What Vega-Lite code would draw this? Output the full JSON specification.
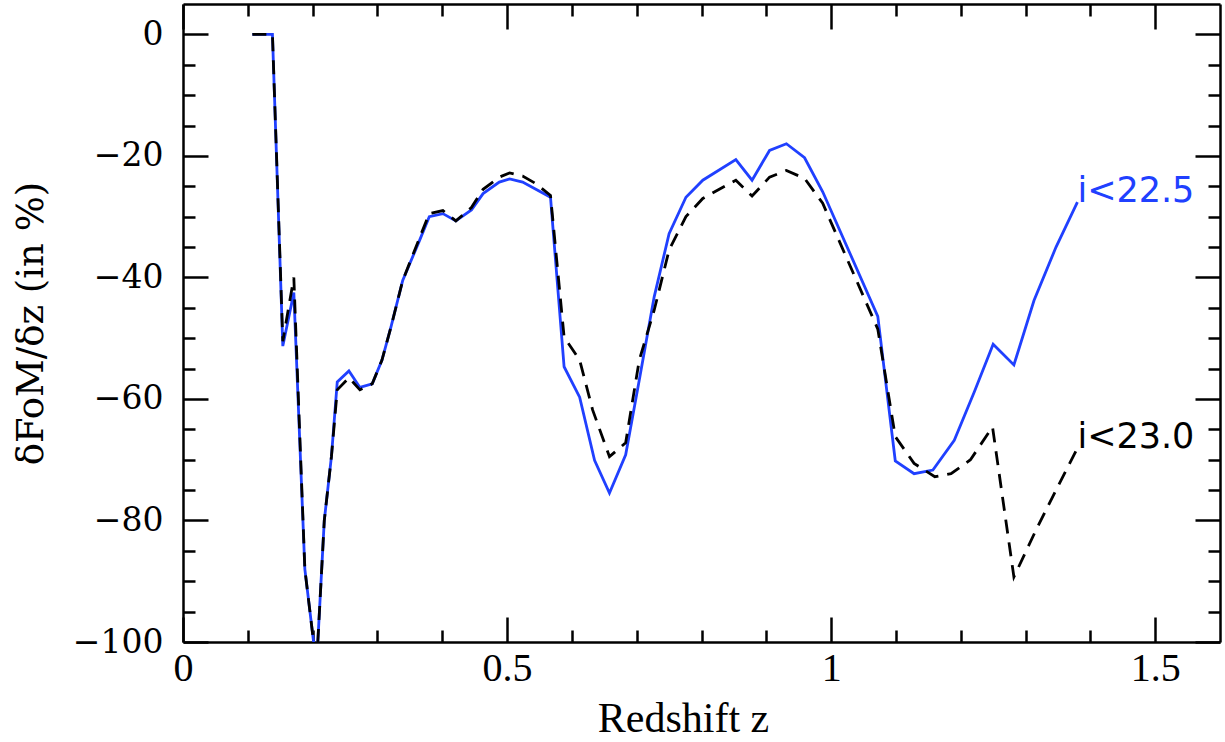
{
  "$schema": "https://vega.github.io/schema/vega-lite/v6.json",
  "width": 1037,
  "height": 638,
  "autosize": {"type": "none"},
  "padding": {"left": 183, "top": 4, "right": 5, "bottom": 100},
  "background": "white",
  "config": {
    "view": {"stroke": null},
    "axis": {"domainColor": "black", "domainWidth": 2.5, "tickColor": "black", "tickWidth": 2.5, "grid": false, "labelColor": "black", "titleColor": "black", "labelOverlap": false, "labelFlush": false}
  },
  "datasets": {
    "curves": [
      {"s": "i<22.5", "z": 0.107, "v": 0},
      {"s": "i<22.5", "z": 0.138, "v": 0},
      {"s": "i<22.5", "z": 0.154, "v": -51.3},
      {"s": "i<22.5", "z": 0.171, "v": -42.5},
      {"s": "i<22.5", "z": 0.188, "v": -88},
      {"s": "i<22.5", "z": 0.206, "v": -104},
      {"s": "i<22.5", "z": 0.218, "v": -80},
      {"s": "i<22.5", "z": 0.229, "v": -69.5},
      {"s": "i<22.5", "z": 0.238, "v": -57.2},
      {"s": "i<22.5", "z": 0.256, "v": -55.4},
      {"s": "i<22.5", "z": 0.273, "v": -58.1},
      {"s": "i<22.5", "z": 0.292, "v": -57.5},
      {"s": "i<22.5", "z": 0.307, "v": -53.6},
      {"s": "i<22.5", "z": 0.321, "v": -48.1},
      {"s": "i<22.5", "z": 0.339, "v": -40.5},
      {"s": "i<22.5", "z": 0.365, "v": -33.9},
      {"s": "i<22.5", "z": 0.380, "v": -30.0},
      {"s": "i<22.5", "z": 0.401, "v": -29.5},
      {"s": "i<22.5", "z": 0.421, "v": -30.7},
      {"s": "i<22.5", "z": 0.445, "v": -28.9},
      {"s": "i<22.5", "z": 0.463, "v": -26.2},
      {"s": "i<22.5", "z": 0.488, "v": -24.3},
      {"s": "i<22.5", "z": 0.504, "v": -23.8},
      {"s": "i<22.5", "z": 0.524, "v": -24.3},
      {"s": "i<22.5", "z": 0.567, "v": -26.8},
      {"s": "i<22.5", "z": 0.588, "v": -54.7},
      {"s": "i<22.5", "z": 0.612, "v": -59.7},
      {"s": "i<22.5", "z": 0.635, "v": -70.1},
      {"s": "i<22.5", "z": 0.658, "v": -75.5},
      {"s": "i<22.5", "z": 0.683, "v": -69.2},
      {"s": "i<22.5", "z": 0.704, "v": -56.9},
      {"s": "i<22.5", "z": 0.727, "v": -43.2},
      {"s": "i<22.5", "z": 0.750, "v": -32.8},
      {"s": "i<22.5", "z": 0.776, "v": -26.8},
      {"s": "i<22.5", "z": 0.802, "v": -24.0},
      {"s": "i<22.5", "z": 0.853, "v": -20.6},
      {"s": "i<22.5", "z": 0.878, "v": -24.0},
      {"s": "i<22.5", "z": 0.905, "v": -19.1},
      {"s": "i<22.5", "z": 0.931, "v": -18.0},
      {"s": "i<22.5", "z": 0.959, "v": -20.3},
      {"s": "i<22.5", "z": 0.987, "v": -25.9},
      {"s": "i<22.5", "z": 1.072, "v": -46.4},
      {"s": "i<22.5", "z": 1.099, "v": -70.2},
      {"s": "i<22.5", "z": 1.128, "v": -72.3},
      {"s": "i<22.5", "z": 1.157, "v": -71.7},
      {"s": "i<22.5", "z": 1.190, "v": -66.8},
      {"s": "i<22.5", "z": 1.221, "v": -58.8},
      {"s": "i<22.5", "z": 1.250, "v": -51.0},
      {"s": "i<22.5", "z": 1.282, "v": -54.4},
      {"s": "i<22.5", "z": 1.313, "v": -43.8},
      {"s": "i<22.5", "z": 1.347, "v": -35.0},
      {"s": "i<22.5", "z": 1.380, "v": -27.6},
      {"s": "i<23.0", "z": 0.107, "v": 0},
      {"s": "i<23.0", "z": 0.138, "v": 0},
      {"s": "i<23.0", "z": 0.154, "v": -50.5},
      {"s": "i<23.0", "z": 0.171, "v": -40},
      {"s": "i<23.0", "z": 0.188, "v": -88},
      {"s": "i<23.0", "z": 0.206, "v": -104},
      {"s": "i<23.0", "z": 0.218, "v": -80},
      {"s": "i<23.0", "z": 0.229, "v": -69.5},
      {"s": "i<23.0", "z": 0.238, "v": -58.5},
      {"s": "i<23.0", "z": 0.256, "v": -56.5},
      {"s": "i<23.0", "z": 0.273, "v": -58.5},
      {"s": "i<23.0", "z": 0.292, "v": -57.5},
      {"s": "i<23.0", "z": 0.307, "v": -53.6},
      {"s": "i<23.0", "z": 0.321, "v": -48.1},
      {"s": "i<23.0", "z": 0.339, "v": -40.5},
      {"s": "i<23.0", "z": 0.365, "v": -33.5},
      {"s": "i<23.0", "z": 0.380, "v": -29.5},
      {"s": "i<23.0", "z": 0.401, "v": -29.0},
      {"s": "i<23.0", "z": 0.421, "v": -30.7},
      {"s": "i<23.0", "z": 0.445, "v": -28.5},
      {"s": "i<23.0", "z": 0.463, "v": -25.5},
      {"s": "i<23.0", "z": 0.488, "v": -23.5},
      {"s": "i<23.0", "z": 0.504, "v": -22.8},
      {"s": "i<23.0", "z": 0.524, "v": -23.3},
      {"s": "i<23.0", "z": 0.545, "v": -24.6},
      {"s": "i<23.0", "z": 0.567, "v": -26.5},
      {"s": "i<23.0", "z": 0.588, "v": -49.8},
      {"s": "i<23.0", "z": 0.612, "v": -53.6},
      {"s": "i<23.0", "z": 0.632, "v": -61.8},
      {"s": "i<23.0", "z": 0.658, "v": -69.5},
      {"s": "i<23.0", "z": 0.683, "v": -67.2},
      {"s": "i<23.0", "z": 0.704, "v": -53.6},
      {"s": "i<23.0", "z": 0.727, "v": -45.4},
      {"s": "i<23.0", "z": 0.750, "v": -35.5},
      {"s": "i<23.0", "z": 0.776, "v": -30.0},
      {"s": "i<23.0", "z": 0.802, "v": -27.0},
      {"s": "i<23.0", "z": 0.853, "v": -24.0},
      {"s": "i<23.0", "z": 0.878, "v": -26.6},
      {"s": "i<23.0", "z": 0.905, "v": -23.5},
      {"s": "i<23.0", "z": 0.931, "v": -22.4},
      {"s": "i<23.0", "z": 0.959, "v": -23.7},
      {"s": "i<23.0", "z": 0.987, "v": -27.8},
      {"s": "i<23.0", "z": 1.072, "v": -48.5},
      {"s": "i<23.0", "z": 1.099, "v": -66.2},
      {"s": "i<23.0", "z": 1.128, "v": -70.6},
      {"s": "i<23.0", "z": 1.160, "v": -72.8},
      {"s": "i<23.0", "z": 1.185, "v": -72.3},
      {"s": "i<23.0", "z": 1.215, "v": -70.0},
      {"s": "i<23.0", "z": 1.249, "v": -64.6},
      {"s": "i<23.0", "z": 1.282, "v": -89.3},
      {"s": "i<23.0", "z": 1.316, "v": -81.6},
      {"s": "i<23.0", "z": 1.347, "v": -75.0},
      {"s": "i<23.0", "z": 1.380, "v": -68.1}
    ],
    "labels": [
      {"s": "i<22.5", "z": 1.38, "v": -25.7},
      {"s": "i<23.0", "z": 1.38, "v": -66.3}
    ]
  },
  "layer": [
    {
      "data": {"name": "curves"},
      "transform": [{"filter": "datum.s === 'i<22.5'"}],
      "mark": {"type": "line", "color": "#2040ff", "strokeWidth": 2.8, "clip": true},
      "encoding": {
        "x": {
          "field": "z", "type": "quantitative",
          "scale": {"domain": [0, 1.6], "nice": false, "zero": false},
          "axis": {
            "orient": "bottom",
            "values": [0, 0.1, 0.2, 0.3, 0.4, 0.5, 0.6, 0.7, 0.8, 0.9, 1, 1.1, 1.2, 1.3, 1.4, 1.5],
            "tickSize": {"condition": {"test": "indexof([0, 0.5, 1, 1.5], datum.value) >= 0", "value": -25}, "value": -12},
            "labelExpr": "indexof([0, 0.5, 1, 1.5], datum.value) >= 0 ? toString(datum.value) : ''",
            "labelFont": "Liberation Serif", "labelFontSize": 40, "labelPadding": 31,
            "title": "Redshift z", "titleFont": "Liberation Serif", "titleFontSize": 42, "titleFontWeight": "normal", "titlePadding": -3, "titleX": 500
          }
        },
        "y": {
          "field": "v", "type": "quantitative",
          "scale": {"domain": [-100, 5], "nice": false, "zero": false},
          "axis": {
            "orient": "left",
            "values": [-100, -95, -90, -85, -80, -75, -70, -65, -60, -55, -50, -45, -40, -35, -30, -25, -20, -15, -10, -5, 0],
            "tickSize": {"condition": {"test": "datum.value % 20 === 0", "value": -25}, "value": -12},
            "labelExpr": "datum.value % 20 === 0 ? (datum.value < 0 ? '−' + toString(-datum.value) : toString(datum.value)) : ''",
            "labelFont": "DejaVu Serif", "labelFontSize": 33, "labelPadding": 45,
            "title": "δFoM/δz (in %)", "titleFont": "DejaVu Serif", "titleFontSize": 37, "titleFontWeight": "normal", "titlePadding": 22
          }
        }
      }
    },
    {
      "data": {"name": "curves"},
      "transform": [{"filter": "datum.s === 'i<23.0'"}],
      "mark": {"type": "line", "color": "black", "strokeWidth": 2.8, "strokeDash": [14, 9], "clip": true},
      "encoding": {
        "x": {
          "field": "z", "type": "quantitative",
          "axis": {
            "orient": "top",
            "values": [0, 0.1, 0.2, 0.3, 0.4, 0.5, 0.6, 0.7, 0.8, 0.9, 1, 1.1, 1.2, 1.3, 1.4, 1.5],
            "tickSize": {"condition": {"test": "indexof([0, 0.5, 1, 1.5], datum.value) >= 0", "value": -25}, "value": -12},
            "labels": false, "title": null
          }
        },
        "y": {
          "field": "v", "type": "quantitative",
          "axis": {
            "orient": "right",
            "values": [-100, -95, -90, -85, -80, -75, -70, -65, -60, -55, -50, -45, -40, -35, -30, -25, -20, -15, -10, -5, 0],
            "tickSize": {"condition": {"test": "datum.value % 20 === 0", "value": -25}, "value": -12},
            "labels": false, "title": null
          }
        }
      }
    },
    {
      "data": {"name": "labels"},
      "mark": {"type": "text", "align": "left", "baseline": "middle", "font": "DejaVu Sans", "fontSize": 35},
      "encoding": {
        "x": {"field": "z", "type": "quantitative", "axis": null},
        "y": {"field": "v", "type": "quantitative", "axis": null},
        "text": {"field": "s"},
        "color": {"field": "s", "type": "nominal", "scale": {"domain": ["i<22.5", "i<23.0"], "range": ["#2040ff", "black"]}, "legend": null}
      }
    }
  ],
  "resolve": {"axis": {"x": "independent", "y": "independent"}}
}
